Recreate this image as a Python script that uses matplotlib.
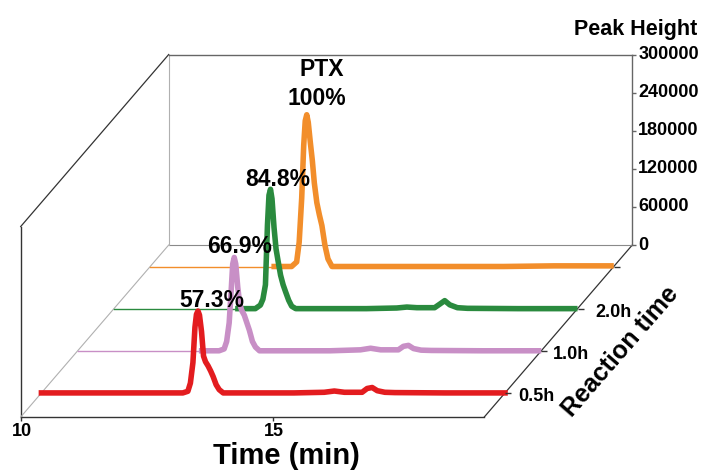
import matplotlib
matplotlib.use('Agg')
import matplotlib.pyplot as plt
from matplotlib.transforms import Affine2D

plt.rcParams['font.family'] = ['Liberation Sans', 'DejaVu Sans']
plt.rcParams['font.weight'] = 'bold'

# retention time grid (min) shared by all traces
time_min = [10.0, 11.0, 12.0, 12.4,
            12.8, 12.9, 12.95, 13.0, 13.04, 13.07, 13.1, 13.13, 13.17, 13.21,
            13.25, 13.3, 13.35, 13.4, 13.46, 13.52, 13.6,
            14.0, 15.0, 15.6, 15.8, 16.0, 16.35, 16.45, 16.55, 16.65, 16.8,
            17.0, 18.0, 19.18]

# peak height traces, front to back
h_05h = [0, 0, 0, 0,
         0, 2600, 15500, 47700, 103200, 123800, 129000, 122600, 96800, 58000,
         49000, 42600, 34800, 25800, 12900, 5200, 0,
         0, 0, 1000, 3000, 1000, 1000, 7000, 8500, 3500, 1000,
         500, 0, 0]
h_10h = [0, 0, 0, 0,
         0, 2900, 14700, 44100, 95600, 136700, 147000, 136700, 100000, 73500,
         63200, 55900, 44100, 32300, 14700, 5900, 0,
         0, 0, 1500, 4000, 1500, 1500, 7000, 8500, 3500, 1000,
         500, 0, 0]
h_20h = [0, 0, 0, 0,
         0, 5600, 15000, 37600, 131600, 178600, 188000, 173000, 127800, 94000,
         75200, 52600, 37600, 26300, 13200, 3800, 0,
         0, 0, 1000, 2500, 1500, 1500, 7000, 12600, 6000, 1500,
         500, 0, 0]
h_ptx = [0, 0, 0, 0,
         0, 7200, 38200, 107600, 191200, 229400, 239000, 227000, 196000, 167300,
         131500, 100400, 81300, 64500, 33500, 12000, 0,
         0, 0, 0, 0, 0, 0, 0, 0, 0, 0,
         0, 1000, 1000]

series = [h_05h, h_10h, h_20h, h_ptx]
pct_labels = ['57.3%', '66.9%', '84.8%', '100%']
depth_labels = ['0.5h', '1.0h', '2.0h', '']
colors = ['#e31c1f', '#c88fc6', '#2a8a3e', '#f28e2b']

height_ticks = [0, 60000, 120000, 180000, 240000, 300000]
time_ticks = [10, 15]

# layout of the oblique box (pixel based)
W, H = 706, 472
PX_MIN = 50.5        # px per minute
X0 = 20.7            # px of t=10 on the front plane
UNIT_PX = 1575       # height units per px
Y0 = 417             # px (from top) of height 0 on the front plane
T0, T_END, H_TOP = 10.0, 19.18, 300000
DX = 148 / PX_MIN
DY = 172 * UNIT_PX
depths = [0.14, 0.385, 0.63, 0.875]
split_t = 12.4       # thin baseline before this time (back traces)

fig = plt.figure(figsize=(W / 100, H / 100), dpi=100)
ax = fig.add_axes([0, 0, 1, 1])
ax.set_xlim(T0 - X0 / PX_MIN, T0 + (W - X0) / PX_MIN)
ax.set_ylim(-(H - Y0) * UNIT_PX, Y0 * UNIT_PX)
ax.axis('off')


def at_depth(d):
    return Affine2D().translate(d * DX, d * DY) + ax.transData


# box frame
dark, mid, light = '#333333', '#666666', '#b0b0b0'
ax.plot([T0, T_END], [0, 0], color=dark, lw=1.0)
ax.plot([T0, T0], [0, H_TOP], color=dark, lw=1.0)
ax.plot([T0, T0 + DX], [H_TOP, H_TOP + DY], color=dark, lw=0.9)
ax.plot([T0, T0 + DX], [0, DY], color=light, lw=0.8)
ax.plot([T_END, T_END + DX], [0, DY], color=dark, lw=0.9)
back = at_depth(1.0)
ax.plot([T0, T_END], [0, 0], color='#8a8a8a', lw=0.8, transform=back)
ax.plot([T0, T0], [0, H_TOP], color=light, lw=0.8, transform=back)
ax.plot([T0, T_END], [H_TOP, H_TOP], color=mid, lw=1.0, transform=back)
ax.plot([T_END, T_END], [0, H_TOP], color=mid, lw=1.0, transform=back)
ax.plot([T_END] * len(height_ticks), height_ticks, ls='none', marker=1,
        ms=3, mew=1.0, color=mid, transform=back)
for v in height_ticks:
    ax.annotate(str(v), (T_END, v), xycoords=back, xytext=(6, 0),
                textcoords='offset pixels', ha='left', va='center',
                fontsize=13, fontweight='bold')

# time axis ticks
ax.plot(time_ticks, [0] * len(time_ticks), ls='none', marker=3, ms=3,
        mew=1.0, color=dark)
for t in time_ticks:
    ax.annotate(str(t), (t, 0), xytext=(1, -15), textcoords='offset pixels',
                ha='center', va='center', fontsize=13, fontweight='bold')

# traces, back to front
label_off = [(14, 11), (5, 11), (7, 10), (10, 16)]
tick_lab_off = [13, 12, 18, 0]
k = time_min.index(split_t)
for i in reversed(range(len(series))):
    tr = at_depth(depths[i])
    h = series[i]
    if i == 0:
        ax.plot(time_min, h, color=colors[i], lw=4.0, solid_joinstyle='round',
                solid_capstyle='projecting', transform=tr)
    else:
        ax.plot(time_min[:k + 1], h[:k + 1], color=colors[i], lw=1.0,
                transform=tr)
        ax.plot(time_min[k:], h[k:], color=colors[i], lw=4.0,
                solid_joinstyle='round', solid_capstyle='butt', transform=tr)
    ax.plot([T_END], [0], ls='none', marker=1, ms=4, mew=1.0, color=dark,
            transform=tr)
    pk = h.index(max(h))
    ax.annotate(pct_labels[i], (time_min[pk], h[pk]), xycoords=tr,
                xytext=label_off[i], textcoords='offset pixels',
                ha='center', va='center', fontsize=16.5, fontweight='bold',
                zorder=10)
    if depth_labels[i]:
        ax.annotate(depth_labels[i], (T_END, 0), xycoords=tr,
                    xytext=(tick_lab_off[i], -4), textcoords='offset pixels',
                    ha='left', va='center', fontsize=13, fontweight='bold')
    if i == 3:
        ax.annotate('PTX', (time_min[pk], h[pk]), xycoords=tr,
                    xytext=(15, 45), textcoords='offset pixels',
                    ha='center', va='center', fontsize=16.5,
                    fontweight='bold', zorder=10)

fig.text(697 / W, 1 - 30 / H, 'Peak Height', ha='right', va='center',
         fontsize=15.5, fontweight='bold')
fig.text(286 / W, 1 - 456 / H, 'Time (min)', ha='center', va='center',
         fontsize=21, fontweight='bold')
fig.text(620 / W, 1 - 352 / H, 'Reaction time', ha='center', va='center',
         rotation=49, rotation_mode='anchor', fontsize=18, fontweight='bold')

fig.savefig('out.png', dpi=100)
